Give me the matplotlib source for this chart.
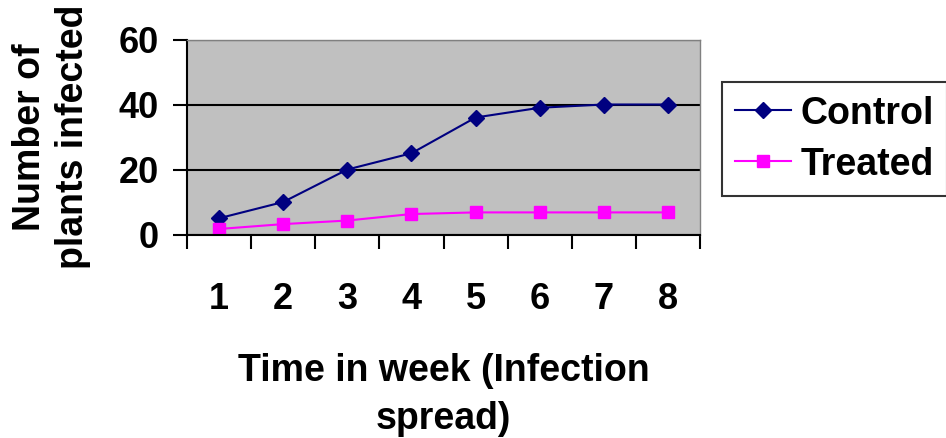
import numpy as np
import matplotlib.pyplot as plt

plt.rcParams['font.family'] = ['Liberation Sans', 'DejaVu Sans']
plt.rcParams['font.weight'] = 'bold'

weeks = ['1', '2', '3', '4', '5', '6', '7', '8']
control = [5, 10, 20, 25, 36, 39, 40, 40]
treated = [1.7, 3.2, 4.3, 6.3, 6.8, 6.8, 6.8, 6.8]

x = np.arange(1, len(weeks) + 1)

fig = plt.figure(figsize=(9.46, 4.38), dpi=100)
ax = fig.add_axes([0.1977, 0.4646, 0.5423, 0.4452])
ax.set_facecolor('#C0C0C0')

ax.plot(x, control, color='#000080', marker='D', markersize=8, linewidth=1.5, label='Control')
ax.plot(x, treated, color='#FF00FF', marker='s', markersize=8, linewidth=1.5, label='Treated')

ax.set_xlim(0.5, 8.5)
ax.set_ylim(0, 60)
ax.set_yticks([0, 20, 40, 60])
ax.yaxis.grid(True, color='black', linewidth=1.5)
ax.set_axisbelow(True)

# category labels centred, tick marks between categories (Excel style)
ax.set_xticks(np.arange(0.5, 9, 1))
ax.set_xticklabels([])
ax.set_xticks(x, minor=True)
ax.set_xticklabels(weeks, minor=True)
ax.tick_params(axis='x', which='major', length=10, width=1.5, direction='out')
ax.tick_params(axis='x', which='minor', length=0, pad=34, labelsize=26)
ax.tick_params(axis='y', length=10, width=1.5, direction='out', pad=10, labelsize=26)

for side in ['left', 'bottom']:
    ax.spines[side].set_linewidth(1.5)
for side in ['top', 'right']:
    ax.spines[side].set_color('#808080')
    ax.spines[side].set_linewidth(1)

ax.set_xlabel('Time in week (Infection\nspread)', fontsize=27, fontweight='bold',
              labelpad=26, linespacing=1.45)
ax.set_ylabel('Number of\nplants infected', fontsize=27, fontweight='bold',
              labelpad=20, linespacing=1.25)

leg = ax.legend(loc='upper left', bbox_to_anchor=(1.043, 0.78), fontsize=27,
                frameon=True, fancybox=False, edgecolor='black', handlelength=1.5,
                handletextpad=0.25, borderpad=0.35, labelspacing=0.4,
                borderaxespad=0)
leg.get_frame().set_linewidth(1.5)

plt.savefig('out.png', dpi=100)
